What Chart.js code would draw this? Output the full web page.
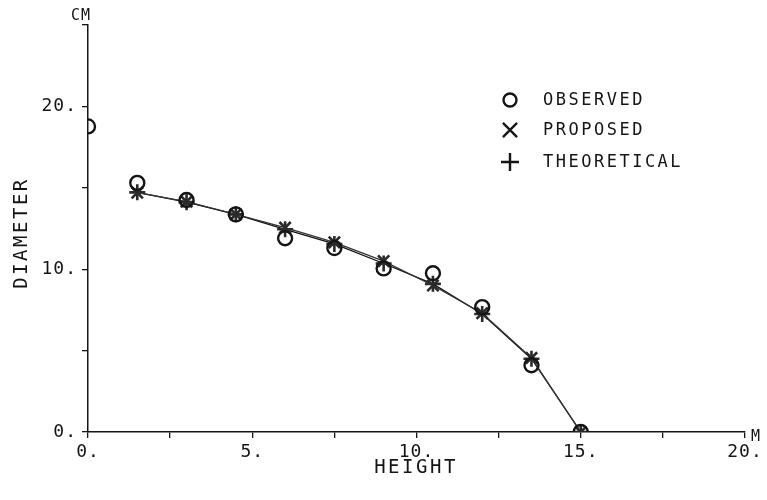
<!DOCTYPE html>
<html>
<head>
<meta charset="utf-8">
<script src="https://cdn.jsdelivr.net/npm/chart.js@4.4.1/dist/chart.umd.min.js"></script>
<style>
  html, body { margin: 0; padding: 0; background: #fff; }
  #wrap { width: 767px; height: 500px; position: relative; }
</style>
</head>
<body>
<div id="wrap"><canvas id="c" width="767" height="500"></canvas></div>
<script>
// ---- data ----
const observedHeight = [0, 1.5, 3, 4.5, 6, 7.5, 9, 10.5, 12, 13.5, 15];
const observedDiam   = [18.77, 15.3, 14.25, 13.37, 11.9, 11.3, 10.05, 9.75, 7.67, 4.1, 0];

const modelHeight    = [1.5, 3, 4.5, 6, 7.5, 9, 10.5, 12, 13.5, 15];
const proposedDiam   = [14.7, 14.15, 13.37, 12.55, 11.65, 10.5, 9.0, 7.3, 4.55, 0];
const theoreticalDiam= [14.72, 14.12, 13.37, 12.45, 11.55, 10.35, 9.1, 7.25, 4.5, 0];

const seriesLabels = ['OBSERVED', 'PROPOSED', 'THEORETICAL'];
const xTitle = 'HEIGHT', yTitle = 'DIAMETER', xUnit = 'M', yUnit = 'CM';
const xTickLabelled = [0, 5, 10, 15, 20];
const yTickLabelled = [0, 10, 20];

const FONT = "'DejaVu Sans Mono', 'Liberation Mono', monospace";
const INK = '#151515';

function pts(xs, ys) { return xs.map((x, i) => ({ x: x, y: ys[i] })); }

const spacing = {
  id: 'spacing',
  beforeLayout(chart) { chart.ctx.letterSpacing = '1px'; },
  beforeDraw(chart) { chart.ctx.letterSpacing = '1px'; }
};

const decor = {
  id: 'decor',
  afterDraw(chart) {
    const ctx = chart.ctx;
    const ca = chart.chartArea;
    ctx.save();
    ctx.fillStyle = INK;
    ctx.letterSpacing = '2.5px';
    ctx.font = '19px ' + FONT;
    ctx.textAlign = 'center';
    ctx.textBaseline = 'middle';
    ctx.fillText(xTitle, 416, 468);
    ctx.save();
    ctx.translate(22, 233);
    ctx.rotate(-Math.PI / 2);
    ctx.fillText(yTitle, 0, 0);
    ctx.restore();
    ctx.letterSpacing = '1px';
    ctx.font = '15px ' + FONT;
    ctx.fillText(yUnit, 81, 16);
    ctx.textAlign = 'left';
    ctx.fillText(xUnit, ca.right + 6, ca.bottom + 5);
    // legend
    ctx.letterSpacing = '2.5px';
    ctx.font = '17px ' + FONT;
    const rows = [100, 130, 162];
    const radii = [6.5, 10, 9];
    chart.data.datasets.forEach((ds, i) => {
      const y = rows[i];
      ctx.save();
      ctx.strokeStyle = INK;
      ctx.lineWidth = 2.4;
      ctx.fillStyle = 'rgba(0,0,0,0)';
      Chart.helpers.drawPoint(ctx, {
        pointStyle: ds.pointStyle, radius: radii[i], borderWidth: 2.4, rotation: 0
      }, 510, y);
      ctx.restore();
      ctx.fillStyle = INK;
      ctx.fillText(ds.label, 543, y + 1);
    });
    ctx.restore();
  }
};

new Chart(document.getElementById('c'), {
  type: 'scatter',
  data: {
    datasets: [
      {
        label: seriesLabels[0],
        data: pts(observedHeight, observedDiam),
        pointStyle: 'circle', pointRadius: 7, pointBorderWidth: 2.4,
        borderColor: INK, backgroundColor: 'rgba(0,0,0,0)', showLine: false
      },
      {
        label: seriesLabels[1],
        data: pts(modelHeight, proposedDiam),
        pointStyle: 'crossRot', pointRadius: 8, pointBorderWidth: 2.6,
        borderColor: '#333', pointBorderColor: '#2a2a2a', backgroundColor: '#888',
        showLine: true, borderWidth: 1.3, tension: 0
      },
      {
        label: seriesLabels[2],
        data: pts(modelHeight, theoreticalDiam),
        pointStyle: 'cross', pointRadius: 8, pointBorderWidth: 2.6,
        borderColor: '#111', pointBorderColor: '#2a2a2a', backgroundColor: '#888',
        showLine: true, borderWidth: 1.3, tension: 0
      }
    ]
  },
  options: {
    responsive: false,
    animation: false,
    devicePixelRatio: 1,
    layout: { padding: { top: 25, right: 22, left: 0, bottom: 0 } },
    plugins: { legend: { display: false }, tooltip: { enabled: false }, title: { display: false } },
    scales: {
      x: {
        type: 'linear', min: 0, max: 20,
        afterFit(s) { s.height = 68; },
        border: { display: true, color: INK, width: 1.5 },
        grid: { drawOnChartArea: false, drawTicks: true, tickLength: 6, color: INK, lineWidth: 1.3 },
        ticks: {
          stepSize: 2.5, padding: 4, color: INK, maxRotation: 0, autoSkip: false,
          font: { family: FONT, size: 18 },
          callback: v => xTickLabelled.includes(v) ? v + '.' : ''
        }
      },
      y: {
        type: 'linear', min: 0, max: 25,
        afterFit(s) { s.width = 88; },
        border: { display: true, color: INK, width: 1.5 },
        grid: { drawOnChartArea: false, drawTicks: true, tickLength: 6, color: INK, lineWidth: 1.3 },
        ticks: {
          stepSize: 5, padding: 5, color: INK, autoSkip: false,
          font: { family: FONT, size: 18 },
          callback: v => yTickLabelled.includes(v) ? v + '.' : ''
        }
      }
    }
  },
  plugins: [spacing, decor]
});
</script>
</body>
</html>
